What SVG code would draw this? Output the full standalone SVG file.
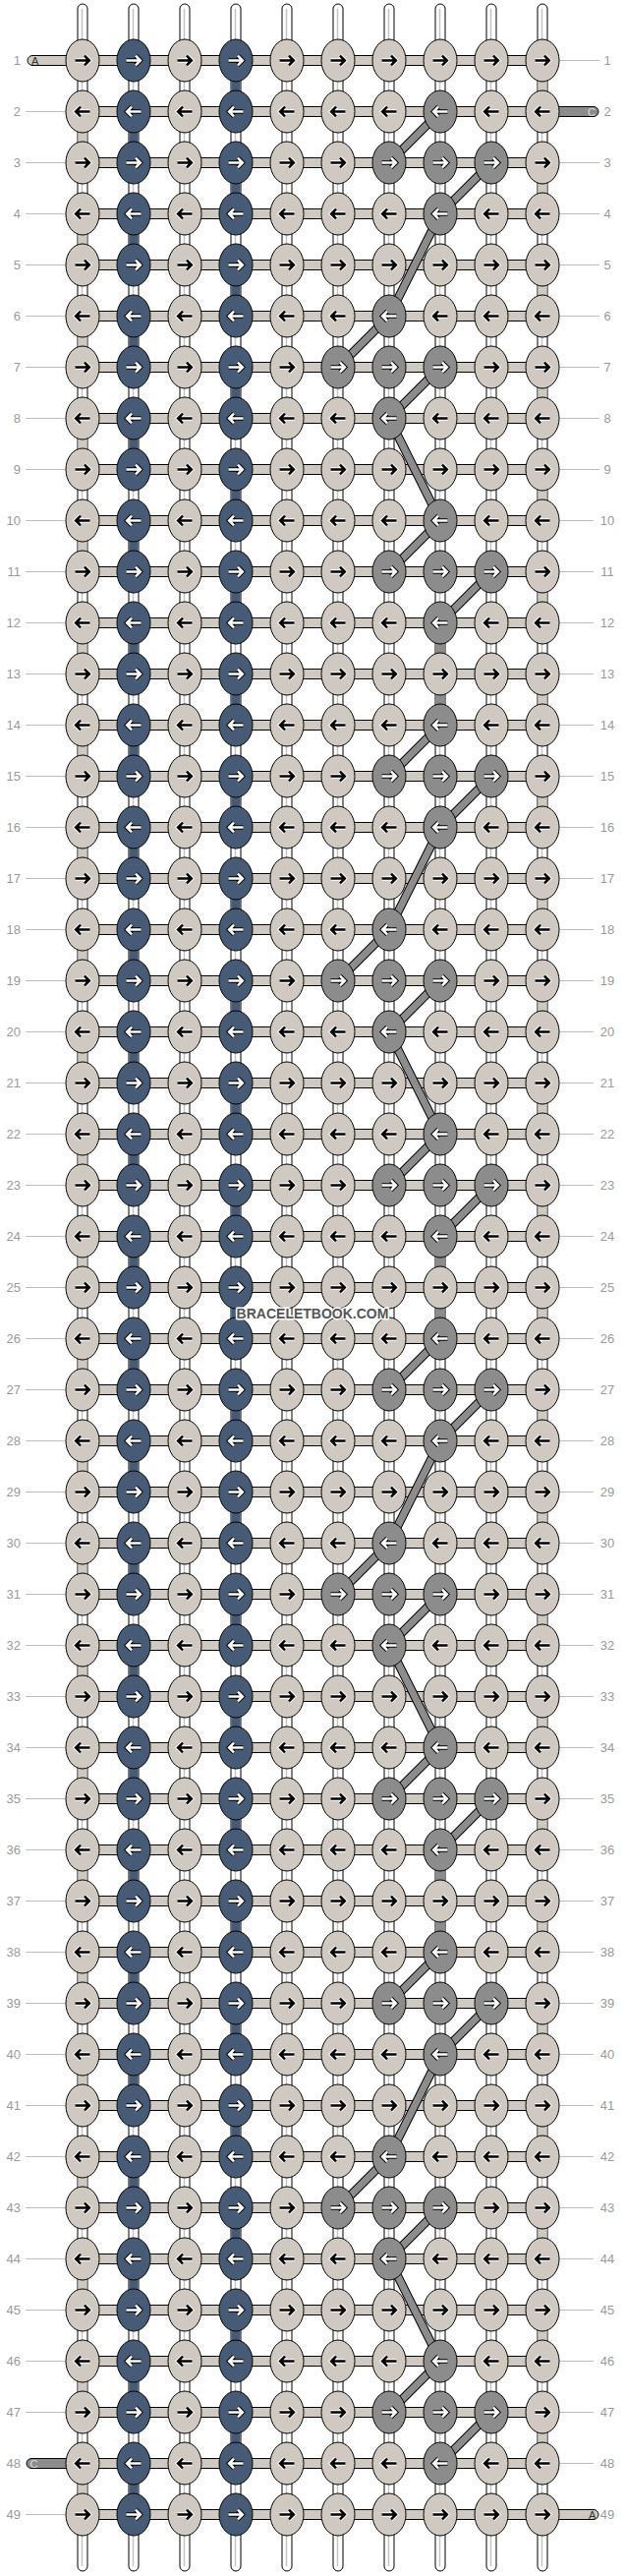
<svg xmlns="http://www.w3.org/2000/svg" xmlns:xlink="http://www.w3.org/1999/xlink" width="636" height="2620" viewBox="0 0 636 2620">
<style>
.str{fill:#fff;stroke:#000;stroke-width:1}
.sl{fill:none;stroke:#c4c4c4;stroke-width:1.5}
.hb{fill:#d0c9c1;stroke:#000;stroke-width:1}
.hg{fill:#8c8c8c;stroke:#000;stroke-width:1}
.eb{fill:#d0c9c1;stroke:#000;stroke-width:1}
.ed{fill:#485b76;stroke:#000;stroke-width:1}
.eg{fill:#8c8c8c;stroke:#000;stroke-width:1}
.h1{fill:none;stroke:#fff;stroke-width:4.6}
.a1{fill:none;stroke:#000;stroke-width:2.6}
.h2{fill:none;stroke:#000;stroke-width:4.6}
.a2{fill:none;stroke:#fff;stroke-width:2.6}
.ln{font-family:"Liberation Sans",Arial,sans-serif;font-size:13px;fill:#9a9a9a}
.rl{fill:none;stroke:#bcbcbc;stroke-width:1}
.el{font-family:"Liberation Sans",Arial,sans-serif;font-size:11px}
</style>
<defs>
<path id="ar" d="M-7.5 0H6M2 -4.8L6.8 0L2 4.8"/>
<path id="al" d="M7.5 0H-6M-2 -4.8L-6.8 0L-2 4.8"/>
<rect id="hbar" x="84" y="-5" width="468" height="10" class="hb"/>
<g id="bR"><ellipse rx="17" ry="21.5" class="eb"/><use xlink:href="#ar" class="h1"/><use xlink:href="#ar" class="a1"/></g>
<g id="bL"><ellipse rx="17" ry="21.5" class="eb"/><use xlink:href="#al" class="h1"/><use xlink:href="#al" class="a1"/></g>
<g id="dR"><ellipse rx="17" ry="21.5" class="ed"/><use xlink:href="#ar" class="h2"/><use xlink:href="#ar" class="a2"/></g>
<g id="dL"><ellipse rx="17" ry="21.5" class="ed"/><use xlink:href="#al" class="h2"/><use xlink:href="#al" class="a2"/></g>
<g id="gR"><ellipse rx="17" ry="21.5" class="eg"/><use xlink:href="#ar" class="h2"/><use xlink:href="#ar" class="a2"/></g>
<g id="gL"><ellipse rx="17" ry="21.5" class="eg"/><use xlink:href="#al" class="h2"/><use xlink:href="#al" class="a2"/></g>
<path id="bands" d="M448 113.5L396 165.5M500 165.5L448 217.5M448 217.5L396 321.5M396 321.5L344 373.5M448 373.5L396 425.5M396 425.5L448 529.5M448 529.5L396 581.5M500 581.5L448 633.5M448 737.5L396 789.5M500 789.5L448 841.5M448 841.5L396 945.5M396 945.5L344 997.5M448 997.5L396 1049.5M396 1049.5L448 1153.5M448 1153.5L396 1205.5M500 1205.5L448 1257.5M448 1361.5L396 1413.5M500 1413.5L448 1465.5M448 1465.5L396 1569.5M396 1569.5L344 1621.5M448 1621.5L396 1673.5M396 1673.5L448 1777.5M448 1777.5L396 1829.5M500 1829.5L448 1881.5M448 1985.5L396 2037.5M500 2037.5L448 2089.5M448 2089.5L396 2193.5M396 2193.5L344 2245.5M448 2245.5L396 2297.5M396 2297.5L448 2401.5M448 2401.5L396 2453.5M500 2453.5L448 2505.5"/>
</defs>
<rect width="636" height="2620" fill="#fff"/>
<g id="labels">
<path class="rl" d="M26 113.5H67M26 165.5H67M26 217.5H67M26 269.5H67M26 321.5H67M26 373.5H67M26 425.5H67M26 477.5H67M26 529.5H67M26 581.5H67M26 633.5H67M26 685.5H67M26 737.5H67M26 789.5H67M26 841.5H67M26 893.5H67M26 945.5H67M26 997.5H67M26 1049.5H67M26 1101.5H67M26 1153.5H67M26 1205.5H67M26 1257.5H67M26 1309.5H67M26 1361.5H67M26 1413.5H67M26 1465.5H67M26 1517.5H67M26 1569.5H67M26 1621.5H67M26 1673.5H67M26 1725.5H67M26 1777.5H67M26 1829.5H67M26 1881.5H67M26 1933.5H67M26 1985.5H67M26 2037.5H67M26 2089.5H67M26 2141.5H67M26 2193.5H67M26 2245.5H67M26 2297.5H67M26 2349.5H67M26 2401.5H67M26 2453.5H67M26 2557.5H67"/>
<path class="rl" d="M569 61.5H610M569 165.5H610M569 217.5H610M569 269.5H610M569 321.5H610M569 373.5H610M569 425.5H610M569 477.5H610M569 529.5H604M569 581.5H604M569 633.5H604M569 685.5H604M569 737.5H604M569 789.5H604M569 841.5H604M569 893.5H604M569 945.5H604M569 997.5H604M569 1049.5H604M569 1101.5H604M569 1153.5H604M569 1205.5H604M569 1257.5H604M569 1309.5H604M569 1361.5H604M569 1413.5H604M569 1465.5H604M569 1517.5H604M569 1569.5H604M569 1621.5H604M569 1673.5H604M569 1725.5H604M569 1777.5H604M569 1829.5H604M569 1881.5H604M569 1933.5H604M569 1985.5H604M569 2037.5H604M569 2089.5H604M569 2141.5H604M569 2193.5H604M569 2245.5H604M569 2297.5H604M569 2349.5H604M569 2401.5H604M569 2453.5H604M569 2505.5H604"/>
<g class="ln" text-anchor="end">
<text x="21" y="66">1</text><text x="21" y="118">2</text><text x="21" y="170">3</text><text x="21" y="222">4</text><text x="21" y="274">5</text><text x="21" y="326">6</text><text x="21" y="378">7</text><text x="21" y="430">8</text><text x="21" y="482">9</text><text x="21" y="534">10</text>
<text x="21" y="586">11</text><text x="21" y="638">12</text><text x="21" y="690">13</text><text x="21" y="742">14</text><text x="21" y="794">15</text><text x="21" y="846">16</text><text x="21" y="898">17</text><text x="21" y="950">18</text><text x="21" y="1002">19</text><text x="21" y="1054">20</text>
<text x="21" y="1106">21</text><text x="21" y="1158">22</text><text x="21" y="1210">23</text><text x="21" y="1262">24</text><text x="21" y="1314">25</text><text x="21" y="1366">26</text><text x="21" y="1418">27</text><text x="21" y="1470">28</text><text x="21" y="1522">29</text><text x="21" y="1574">30</text>
<text x="21" y="1626">31</text><text x="21" y="1678">32</text><text x="21" y="1730">33</text><text x="21" y="1782">34</text><text x="21" y="1834">35</text><text x="21" y="1886">36</text><text x="21" y="1938">37</text><text x="21" y="1990">38</text><text x="21" y="2042">39</text><text x="21" y="2094">40</text>
<text x="21" y="2146">41</text><text x="21" y="2198">42</text><text x="21" y="2250">43</text><text x="21" y="2302">44</text><text x="21" y="2354">45</text><text x="21" y="2406">46</text><text x="21" y="2458">47</text><text x="21" y="2510">48</text><text x="21" y="2562">49</text>
</g>
<g class="ln" text-anchor="middle">
<text x="618" y="66">1</text><text x="618" y="118">2</text><text x="618" y="170">3</text><text x="618" y="222">4</text><text x="618" y="274">5</text><text x="618" y="326">6</text><text x="618" y="378">7</text><text x="618" y="430">8</text><text x="618" y="482">9</text><text x="618" y="534">10</text>
<text x="618" y="586">11</text><text x="618" y="638">12</text><text x="618" y="690">13</text><text x="618" y="742">14</text><text x="618" y="794">15</text><text x="618" y="846">16</text><text x="618" y="898">17</text><text x="618" y="950">18</text><text x="618" y="1002">19</text><text x="618" y="1054">20</text>
<text x="618" y="1106">21</text><text x="618" y="1158">22</text><text x="618" y="1210">23</text><text x="618" y="1262">24</text><text x="618" y="1314">25</text><text x="618" y="1366">26</text><text x="618" y="1418">27</text><text x="618" y="1470">28</text><text x="618" y="1522">29</text><text x="618" y="1574">30</text>
<text x="618" y="1626">31</text><text x="618" y="1678">32</text><text x="618" y="1730">33</text><text x="618" y="1782">34</text><text x="618" y="1834">35</text><text x="618" y="1886">36</text><text x="618" y="1938">37</text><text x="618" y="1990">38</text><text x="618" y="2042">39</text><text x="618" y="2094">40</text>
<text x="618" y="2146">41</text><text x="618" y="2198">42</text><text x="618" y="2250">43</text><text x="618" y="2302">44</text><text x="618" y="2354">45</text><text x="618" y="2406">46</text><text x="618" y="2458">47</text><text x="618" y="2510">48</text><text x="618" y="2562">49</text>
</g>
</g>
<g id="connectors">
<g id="strings">
<rect class="str" x="79" y="4" width="10" height="2611" rx="5"/><rect class="str" x="131" y="4" width="10" height="2611" rx="5"/><rect class="str" x="183" y="4" width="10" height="2611" rx="5"/><rect class="str" x="235" y="4" width="10" height="2611" rx="5"/><rect class="str" x="287" y="4" width="10" height="2611" rx="5"/><rect class="str" x="339" y="4" width="10" height="2611" rx="5"/><rect class="str" x="391" y="4" width="10" height="2611" rx="5"/><rect class="str" x="443" y="4" width="10" height="2611" rx="5"/><rect class="str" x="495" y="4" width="10" height="2611" rx="5"/><rect class="str" x="547" y="4" width="10" height="2611" rx="5"/>
<path class="sl" d="M83.5 9V2610M135.5 9V2610M187.5 9V2610M239.5 9V2610M291.5 9V2610M343.5 9V2610M395.5 9V2610M447.5 9V2610M499.5 9V2610M551.5 9V2610"/>
<path d="M84 113.5V2557.5M552 61.5V2505.5" fill="none" stroke="#d0c9c1" stroke-width="9" stroke-dasharray="52 52"/>
<path d="M136 113.5V2557.5M240 61.5V2505.5" fill="none" stroke="#485b76" stroke-width="9" stroke-dasharray="52 52"/>
<path d="M448 633.5V737.5M448 1257.5V1361.5M448 1881.5V1985.5" fill="none" stroke="#8c8c8c" stroke-width="9"/>
</g>
<g id="rows-h">
<use xlink:href="#hbar" y="61.5"/><use xlink:href="#hbar" y="113.5"/><use xlink:href="#hbar" y="165.5"/><use xlink:href="#hbar" y="217.5"/><use xlink:href="#hbar" y="269.5"/><use xlink:href="#hbar" y="321.5"/><use xlink:href="#hbar" y="373.5"/><use xlink:href="#hbar" y="425.5"/><use xlink:href="#hbar" y="477.5"/><use xlink:href="#hbar" y="529.5"/>
<use xlink:href="#hbar" y="581.5"/><use xlink:href="#hbar" y="633.5"/><use xlink:href="#hbar" y="685.5"/><use xlink:href="#hbar" y="737.5"/><use xlink:href="#hbar" y="789.5"/><use xlink:href="#hbar" y="841.5"/><use xlink:href="#hbar" y="893.5"/><use xlink:href="#hbar" y="945.5"/><use xlink:href="#hbar" y="997.5"/><use xlink:href="#hbar" y="1049.5"/>
<use xlink:href="#hbar" y="1101.5"/><use xlink:href="#hbar" y="1153.5"/><use xlink:href="#hbar" y="1205.5"/><use xlink:href="#hbar" y="1257.5"/><use xlink:href="#hbar" y="1309.5"/><use xlink:href="#hbar" y="1361.5"/><use xlink:href="#hbar" y="1413.5"/><use xlink:href="#hbar" y="1465.5"/><use xlink:href="#hbar" y="1517.5"/><use xlink:href="#hbar" y="1569.5"/>
<use xlink:href="#hbar" y="1621.5"/><use xlink:href="#hbar" y="1673.5"/><use xlink:href="#hbar" y="1725.5"/><use xlink:href="#hbar" y="1777.5"/><use xlink:href="#hbar" y="1829.5"/><use xlink:href="#hbar" y="1881.5"/><use xlink:href="#hbar" y="1933.5"/><use xlink:href="#hbar" y="1985.5"/><use xlink:href="#hbar" y="2037.5"/><use xlink:href="#hbar" y="2089.5"/>
<use xlink:href="#hbar" y="2141.5"/><use xlink:href="#hbar" y="2193.5"/><use xlink:href="#hbar" y="2245.5"/><use xlink:href="#hbar" y="2297.5"/><use xlink:href="#hbar" y="2349.5"/><use xlink:href="#hbar" y="2401.5"/><use xlink:href="#hbar" y="2453.5"/><use xlink:href="#hbar" y="2505.5"/><use xlink:href="#hbar" y="2557.5"/>
</g>
<g id="ends">
<rect class="hb" x="28" y="56.5" width="60" height="10" rx="5"/><text class="el" x="32" y="65.5" fill="#333">A</text>
<rect class="hg" x="548" y="108.5" width="61" height="10" rx="5"/><text class="el" x="598" y="117.5" fill="#ddd">C</text>
<rect class="hg" x="27" y="2500.5" width="61" height="10" rx="5"/><text class="el" x="30.5" y="2509.5" fill="#ddd">C</text>
<rect class="hb" x="548" y="2552.5" width="61" height="10" rx="5"/><text class="el" x="599" y="2561.5" fill="#333">A</text>
</g>
<g id="diagonals">
<use xlink:href="#bands" fill="none" stroke="#000" stroke-width="9"/>
<use xlink:href="#bands" fill="none" stroke="#8c8c8c" stroke-width="7"/>
</g>
</g>
<g id="knots">
<g transform="translate(0,61.5)"><g id="k1-1"><use xlink:href="#bR" x="84"/></g><g id="k1-2"><use xlink:href="#dR" x="136"/></g><g id="k1-3"><use xlink:href="#bR" x="188"/></g><g id="k1-4"><use xlink:href="#dR" x="240"/></g><g id="k1-5"><use xlink:href="#bR" x="292"/></g><g id="k1-6"><use xlink:href="#bR" x="344"/></g><g id="k1-7"><use xlink:href="#bR" x="396"/></g><g id="k1-8"><use xlink:href="#bR" x="448"/></g><g id="k1-9"><use xlink:href="#bR" x="500"/></g><g id="k1-10"><use xlink:href="#bR" x="552"/></g></g>
<g transform="translate(0,113.5)"><g id="k2-1"><use xlink:href="#bL" x="84"/></g><g id="k2-2"><use xlink:href="#dL" x="136"/></g><g id="k2-3"><use xlink:href="#bL" x="188"/></g><g id="k2-4"><use xlink:href="#dL" x="240"/></g><g id="k2-5"><use xlink:href="#bL" x="292"/></g><g id="k2-6"><use xlink:href="#bL" x="344"/></g><g id="k2-7"><use xlink:href="#bL" x="396"/></g><g id="k2-8"><use xlink:href="#gL" x="448"/></g><g id="k2-9"><use xlink:href="#bL" x="500"/></g><g id="k2-10"><use xlink:href="#bL" x="552"/></g></g>
<g transform="translate(0,165.5)"><g id="k3-1"><use xlink:href="#bR" x="84"/></g><g id="k3-2"><use xlink:href="#dR" x="136"/></g><g id="k3-3"><use xlink:href="#bR" x="188"/></g><g id="k3-4"><use xlink:href="#dR" x="240"/></g><g id="k3-5"><use xlink:href="#bR" x="292"/></g><g id="k3-6"><use xlink:href="#bR" x="344"/></g><g id="k3-7"><use xlink:href="#gR" x="396"/></g><g id="k3-8"><use xlink:href="#gR" x="448"/></g><g id="k3-9"><use xlink:href="#gR" x="500"/></g><g id="k3-10"><use xlink:href="#bR" x="552"/></g></g>
<g transform="translate(0,217.5)"><g id="k4-1"><use xlink:href="#bL" x="84"/></g><g id="k4-2"><use xlink:href="#dL" x="136"/></g><g id="k4-3"><use xlink:href="#bL" x="188"/></g><g id="k4-4"><use xlink:href="#dL" x="240"/></g><g id="k4-5"><use xlink:href="#bL" x="292"/></g><g id="k4-6"><use xlink:href="#bL" x="344"/></g><g id="k4-7"><use xlink:href="#bL" x="396"/></g><g id="k4-8"><use xlink:href="#gL" x="448"/></g><g id="k4-9"><use xlink:href="#bL" x="500"/></g><g id="k4-10"><use xlink:href="#bL" x="552"/></g></g>
<g transform="translate(0,269.5)"><g id="k5-1"><use xlink:href="#bR" x="84"/></g><g id="k5-2"><use xlink:href="#dR" x="136"/></g><g id="k5-3"><use xlink:href="#bR" x="188"/></g><g id="k5-4"><use xlink:href="#dR" x="240"/></g><g id="k5-5"><use xlink:href="#bR" x="292"/></g><g id="k5-6"><use xlink:href="#bR" x="344"/></g><g id="k5-7"><use xlink:href="#bR" x="396"/></g><g id="k5-8"><use xlink:href="#bR" x="448"/></g><g id="k5-9"><use xlink:href="#bR" x="500"/></g><g id="k5-10"><use xlink:href="#bR" x="552"/></g></g>
<g transform="translate(0,321.5)"><g id="k6-1"><use xlink:href="#bL" x="84"/></g><g id="k6-2"><use xlink:href="#dL" x="136"/></g><g id="k6-3"><use xlink:href="#bL" x="188"/></g><g id="k6-4"><use xlink:href="#dL" x="240"/></g><g id="k6-5"><use xlink:href="#bL" x="292"/></g><g id="k6-6"><use xlink:href="#bL" x="344"/></g><g id="k6-7"><use xlink:href="#gL" x="396"/></g><g id="k6-8"><use xlink:href="#bL" x="448"/></g><g id="k6-9"><use xlink:href="#bL" x="500"/></g><g id="k6-10"><use xlink:href="#bL" x="552"/></g></g>
<g transform="translate(0,373.5)"><g id="k7-1"><use xlink:href="#bR" x="84"/></g><g id="k7-2"><use xlink:href="#dR" x="136"/></g><g id="k7-3"><use xlink:href="#bR" x="188"/></g><g id="k7-4"><use xlink:href="#dR" x="240"/></g><g id="k7-5"><use xlink:href="#bR" x="292"/></g><g id="k7-6"><use xlink:href="#gR" x="344"/></g><g id="k7-7"><use xlink:href="#gR" x="396"/></g><g id="k7-8"><use xlink:href="#gR" x="448"/></g><g id="k7-9"><use xlink:href="#bR" x="500"/></g><g id="k7-10"><use xlink:href="#bR" x="552"/></g></g>
<g transform="translate(0,425.5)"><g id="k8-1"><use xlink:href="#bL" x="84"/></g><g id="k8-2"><use xlink:href="#dL" x="136"/></g><g id="k8-3"><use xlink:href="#bL" x="188"/></g><g id="k8-4"><use xlink:href="#dL" x="240"/></g><g id="k8-5"><use xlink:href="#bL" x="292"/></g><g id="k8-6"><use xlink:href="#bL" x="344"/></g><g id="k8-7"><use xlink:href="#gL" x="396"/></g><g id="k8-8"><use xlink:href="#bL" x="448"/></g><g id="k8-9"><use xlink:href="#bL" x="500"/></g><g id="k8-10"><use xlink:href="#bL" x="552"/></g></g>
<g transform="translate(0,477.5)"><g id="k9-1"><use xlink:href="#bR" x="84"/></g><g id="k9-2"><use xlink:href="#dR" x="136"/></g><g id="k9-3"><use xlink:href="#bR" x="188"/></g><g id="k9-4"><use xlink:href="#dR" x="240"/></g><g id="k9-5"><use xlink:href="#bR" x="292"/></g><g id="k9-6"><use xlink:href="#bR" x="344"/></g><g id="k9-7"><use xlink:href="#bR" x="396"/></g><g id="k9-8"><use xlink:href="#bR" x="448"/></g><g id="k9-9"><use xlink:href="#bR" x="500"/></g><g id="k9-10"><use xlink:href="#bR" x="552"/></g></g>
<g transform="translate(0,529.5)"><g id="k10-1"><use xlink:href="#bL" x="84"/></g><g id="k10-2"><use xlink:href="#dL" x="136"/></g><g id="k10-3"><use xlink:href="#bL" x="188"/></g><g id="k10-4"><use xlink:href="#dL" x="240"/></g><g id="k10-5"><use xlink:href="#bL" x="292"/></g><g id="k10-6"><use xlink:href="#bL" x="344"/></g><g id="k10-7"><use xlink:href="#bL" x="396"/></g><g id="k10-8"><use xlink:href="#gL" x="448"/></g><g id="k10-9"><use xlink:href="#bL" x="500"/></g><g id="k10-10"><use xlink:href="#bL" x="552"/></g></g>
<g transform="translate(0,581.5)"><g id="k11-1"><use xlink:href="#bR" x="84"/></g><g id="k11-2"><use xlink:href="#dR" x="136"/></g><g id="k11-3"><use xlink:href="#bR" x="188"/></g><g id="k11-4"><use xlink:href="#dR" x="240"/></g><g id="k11-5"><use xlink:href="#bR" x="292"/></g><g id="k11-6"><use xlink:href="#bR" x="344"/></g><g id="k11-7"><use xlink:href="#gR" x="396"/></g><g id="k11-8"><use xlink:href="#gR" x="448"/></g><g id="k11-9"><use xlink:href="#gR" x="500"/></g><g id="k11-10"><use xlink:href="#bR" x="552"/></g></g>
<g transform="translate(0,633.5)"><g id="k12-1"><use xlink:href="#bL" x="84"/></g><g id="k12-2"><use xlink:href="#dL" x="136"/></g><g id="k12-3"><use xlink:href="#bL" x="188"/></g><g id="k12-4"><use xlink:href="#dL" x="240"/></g><g id="k12-5"><use xlink:href="#bL" x="292"/></g><g id="k12-6"><use xlink:href="#bL" x="344"/></g><g id="k12-7"><use xlink:href="#bL" x="396"/></g><g id="k12-8"><use xlink:href="#gL" x="448"/></g><g id="k12-9"><use xlink:href="#bL" x="500"/></g><g id="k12-10"><use xlink:href="#bL" x="552"/></g></g>
<g transform="translate(0,685.5)"><g id="k13-1"><use xlink:href="#bR" x="84"/></g><g id="k13-2"><use xlink:href="#dR" x="136"/></g><g id="k13-3"><use xlink:href="#bR" x="188"/></g><g id="k13-4"><use xlink:href="#dR" x="240"/></g><g id="k13-5"><use xlink:href="#bR" x="292"/></g><g id="k13-6"><use xlink:href="#bR" x="344"/></g><g id="k13-7"><use xlink:href="#bR" x="396"/></g><g id="k13-8"><use xlink:href="#bR" x="448"/></g><g id="k13-9"><use xlink:href="#bR" x="500"/></g><g id="k13-10"><use xlink:href="#bR" x="552"/></g></g>
<g transform="translate(0,737.5)"><g id="k14-1"><use xlink:href="#bL" x="84"/></g><g id="k14-2"><use xlink:href="#dL" x="136"/></g><g id="k14-3"><use xlink:href="#bL" x="188"/></g><g id="k14-4"><use xlink:href="#dL" x="240"/></g><g id="k14-5"><use xlink:href="#bL" x="292"/></g><g id="k14-6"><use xlink:href="#bL" x="344"/></g><g id="k14-7"><use xlink:href="#bL" x="396"/></g><g id="k14-8"><use xlink:href="#gL" x="448"/></g><g id="k14-9"><use xlink:href="#bL" x="500"/></g><g id="k14-10"><use xlink:href="#bL" x="552"/></g></g>
<g transform="translate(0,789.5)"><g id="k15-1"><use xlink:href="#bR" x="84"/></g><g id="k15-2"><use xlink:href="#dR" x="136"/></g><g id="k15-3"><use xlink:href="#bR" x="188"/></g><g id="k15-4"><use xlink:href="#dR" x="240"/></g><g id="k15-5"><use xlink:href="#bR" x="292"/></g><g id="k15-6"><use xlink:href="#bR" x="344"/></g><g id="k15-7"><use xlink:href="#gR" x="396"/></g><g id="k15-8"><use xlink:href="#gR" x="448"/></g><g id="k15-9"><use xlink:href="#gR" x="500"/></g><g id="k15-10"><use xlink:href="#bR" x="552"/></g></g>
<g transform="translate(0,841.5)"><g id="k16-1"><use xlink:href="#bL" x="84"/></g><g id="k16-2"><use xlink:href="#dL" x="136"/></g><g id="k16-3"><use xlink:href="#bL" x="188"/></g><g id="k16-4"><use xlink:href="#dL" x="240"/></g><g id="k16-5"><use xlink:href="#bL" x="292"/></g><g id="k16-6"><use xlink:href="#bL" x="344"/></g><g id="k16-7"><use xlink:href="#bL" x="396"/></g><g id="k16-8"><use xlink:href="#gL" x="448"/></g><g id="k16-9"><use xlink:href="#bL" x="500"/></g><g id="k16-10"><use xlink:href="#bL" x="552"/></g></g>
<g transform="translate(0,893.5)"><g id="k17-1"><use xlink:href="#bR" x="84"/></g><g id="k17-2"><use xlink:href="#dR" x="136"/></g><g id="k17-3"><use xlink:href="#bR" x="188"/></g><g id="k17-4"><use xlink:href="#dR" x="240"/></g><g id="k17-5"><use xlink:href="#bR" x="292"/></g><g id="k17-6"><use xlink:href="#bR" x="344"/></g><g id="k17-7"><use xlink:href="#bR" x="396"/></g><g id="k17-8"><use xlink:href="#bR" x="448"/></g><g id="k17-9"><use xlink:href="#bR" x="500"/></g><g id="k17-10"><use xlink:href="#bR" x="552"/></g></g>
<g transform="translate(0,945.5)"><g id="k18-1"><use xlink:href="#bL" x="84"/></g><g id="k18-2"><use xlink:href="#dL" x="136"/></g><g id="k18-3"><use xlink:href="#bL" x="188"/></g><g id="k18-4"><use xlink:href="#dL" x="240"/></g><g id="k18-5"><use xlink:href="#bL" x="292"/></g><g id="k18-6"><use xlink:href="#bL" x="344"/></g><g id="k18-7"><use xlink:href="#gL" x="396"/></g><g id="k18-8"><use xlink:href="#bL" x="448"/></g><g id="k18-9"><use xlink:href="#bL" x="500"/></g><g id="k18-10"><use xlink:href="#bL" x="552"/></g></g>
<g transform="translate(0,997.5)"><g id="k19-1"><use xlink:href="#bR" x="84"/></g><g id="k19-2"><use xlink:href="#dR" x="136"/></g><g id="k19-3"><use xlink:href="#bR" x="188"/></g><g id="k19-4"><use xlink:href="#dR" x="240"/></g><g id="k19-5"><use xlink:href="#bR" x="292"/></g><g id="k19-6"><use xlink:href="#gR" x="344"/></g><g id="k19-7"><use xlink:href="#gR" x="396"/></g><g id="k19-8"><use xlink:href="#gR" x="448"/></g><g id="k19-9"><use xlink:href="#bR" x="500"/></g><g id="k19-10"><use xlink:href="#bR" x="552"/></g></g>
<g transform="translate(0,1049.5)"><g id="k20-1"><use xlink:href="#bL" x="84"/></g><g id="k20-2"><use xlink:href="#dL" x="136"/></g><g id="k20-3"><use xlink:href="#bL" x="188"/></g><g id="k20-4"><use xlink:href="#dL" x="240"/></g><g id="k20-5"><use xlink:href="#bL" x="292"/></g><g id="k20-6"><use xlink:href="#bL" x="344"/></g><g id="k20-7"><use xlink:href="#gL" x="396"/></g><g id="k20-8"><use xlink:href="#bL" x="448"/></g><g id="k20-9"><use xlink:href="#bL" x="500"/></g><g id="k20-10"><use xlink:href="#bL" x="552"/></g></g>
<g transform="translate(0,1101.5)"><g id="k21-1"><use xlink:href="#bR" x="84"/></g><g id="k21-2"><use xlink:href="#dR" x="136"/></g><g id="k21-3"><use xlink:href="#bR" x="188"/></g><g id="k21-4"><use xlink:href="#dR" x="240"/></g><g id="k21-5"><use xlink:href="#bR" x="292"/></g><g id="k21-6"><use xlink:href="#bR" x="344"/></g><g id="k21-7"><use xlink:href="#bR" x="396"/></g><g id="k21-8"><use xlink:href="#bR" x="448"/></g><g id="k21-9"><use xlink:href="#bR" x="500"/></g><g id="k21-10"><use xlink:href="#bR" x="552"/></g></g>
<g transform="translate(0,1153.5)"><g id="k22-1"><use xlink:href="#bL" x="84"/></g><g id="k22-2"><use xlink:href="#dL" x="136"/></g><g id="k22-3"><use xlink:href="#bL" x="188"/></g><g id="k22-4"><use xlink:href="#dL" x="240"/></g><g id="k22-5"><use xlink:href="#bL" x="292"/></g><g id="k22-6"><use xlink:href="#bL" x="344"/></g><g id="k22-7"><use xlink:href="#bL" x="396"/></g><g id="k22-8"><use xlink:href="#gL" x="448"/></g><g id="k22-9"><use xlink:href="#bL" x="500"/></g><g id="k22-10"><use xlink:href="#bL" x="552"/></g></g>
<g transform="translate(0,1205.5)"><g id="k23-1"><use xlink:href="#bR" x="84"/></g><g id="k23-2"><use xlink:href="#dR" x="136"/></g><g id="k23-3"><use xlink:href="#bR" x="188"/></g><g id="k23-4"><use xlink:href="#dR" x="240"/></g><g id="k23-5"><use xlink:href="#bR" x="292"/></g><g id="k23-6"><use xlink:href="#bR" x="344"/></g><g id="k23-7"><use xlink:href="#gR" x="396"/></g><g id="k23-8"><use xlink:href="#gR" x="448"/></g><g id="k23-9"><use xlink:href="#gR" x="500"/></g><g id="k23-10"><use xlink:href="#bR" x="552"/></g></g>
<g transform="translate(0,1257.5)"><g id="k24-1"><use xlink:href="#bL" x="84"/></g><g id="k24-2"><use xlink:href="#dL" x="136"/></g><g id="k24-3"><use xlink:href="#bL" x="188"/></g><g id="k24-4"><use xlink:href="#dL" x="240"/></g><g id="k24-5"><use xlink:href="#bL" x="292"/></g><g id="k24-6"><use xlink:href="#bL" x="344"/></g><g id="k24-7"><use xlink:href="#bL" x="396"/></g><g id="k24-8"><use xlink:href="#gL" x="448"/></g><g id="k24-9"><use xlink:href="#bL" x="500"/></g><g id="k24-10"><use xlink:href="#bL" x="552"/></g></g>
<g transform="translate(0,1309.5)"><g id="k25-1"><use xlink:href="#bR" x="84"/></g><g id="k25-2"><use xlink:href="#dR" x="136"/></g><g id="k25-3"><use xlink:href="#bR" x="188"/></g><g id="k25-4"><use xlink:href="#dR" x="240"/></g><g id="k25-5"><use xlink:href="#bR" x="292"/></g><g id="k25-6"><use xlink:href="#bR" x="344"/></g><g id="k25-7"><use xlink:href="#bR" x="396"/></g><g id="k25-8"><use xlink:href="#bR" x="448"/></g><g id="k25-9"><use xlink:href="#bR" x="500"/></g><g id="k25-10"><use xlink:href="#bR" x="552"/></g></g>
<g transform="translate(0,1361.5)"><g id="k26-1"><use xlink:href="#bL" x="84"/></g><g id="k26-2"><use xlink:href="#dL" x="136"/></g><g id="k26-3"><use xlink:href="#bL" x="188"/></g><g id="k26-4"><use xlink:href="#dL" x="240"/></g><g id="k26-5"><use xlink:href="#bL" x="292"/></g><g id="k26-6"><use xlink:href="#bL" x="344"/></g><g id="k26-7"><use xlink:href="#bL" x="396"/></g><g id="k26-8"><use xlink:href="#gL" x="448"/></g><g id="k26-9"><use xlink:href="#bL" x="500"/></g><g id="k26-10"><use xlink:href="#bL" x="552"/></g></g>
<g transform="translate(0,1413.5)"><g id="k27-1"><use xlink:href="#bR" x="84"/></g><g id="k27-2"><use xlink:href="#dR" x="136"/></g><g id="k27-3"><use xlink:href="#bR" x="188"/></g><g id="k27-4"><use xlink:href="#dR" x="240"/></g><g id="k27-5"><use xlink:href="#bR" x="292"/></g><g id="k27-6"><use xlink:href="#bR" x="344"/></g><g id="k27-7"><use xlink:href="#gR" x="396"/></g><g id="k27-8"><use xlink:href="#gR" x="448"/></g><g id="k27-9"><use xlink:href="#gR" x="500"/></g><g id="k27-10"><use xlink:href="#bR" x="552"/></g></g>
<g transform="translate(0,1465.5)"><g id="k28-1"><use xlink:href="#bL" x="84"/></g><g id="k28-2"><use xlink:href="#dL" x="136"/></g><g id="k28-3"><use xlink:href="#bL" x="188"/></g><g id="k28-4"><use xlink:href="#dL" x="240"/></g><g id="k28-5"><use xlink:href="#bL" x="292"/></g><g id="k28-6"><use xlink:href="#bL" x="344"/></g><g id="k28-7"><use xlink:href="#bL" x="396"/></g><g id="k28-8"><use xlink:href="#gL" x="448"/></g><g id="k28-9"><use xlink:href="#bL" x="500"/></g><g id="k28-10"><use xlink:href="#bL" x="552"/></g></g>
<g transform="translate(0,1517.5)"><g id="k29-1"><use xlink:href="#bR" x="84"/></g><g id="k29-2"><use xlink:href="#dR" x="136"/></g><g id="k29-3"><use xlink:href="#bR" x="188"/></g><g id="k29-4"><use xlink:href="#dR" x="240"/></g><g id="k29-5"><use xlink:href="#bR" x="292"/></g><g id="k29-6"><use xlink:href="#bR" x="344"/></g><g id="k29-7"><use xlink:href="#bR" x="396"/></g><g id="k29-8"><use xlink:href="#bR" x="448"/></g><g id="k29-9"><use xlink:href="#bR" x="500"/></g><g id="k29-10"><use xlink:href="#bR" x="552"/></g></g>
<g transform="translate(0,1569.5)"><g id="k30-1"><use xlink:href="#bL" x="84"/></g><g id="k30-2"><use xlink:href="#dL" x="136"/></g><g id="k30-3"><use xlink:href="#bL" x="188"/></g><g id="k30-4"><use xlink:href="#dL" x="240"/></g><g id="k30-5"><use xlink:href="#bL" x="292"/></g><g id="k30-6"><use xlink:href="#bL" x="344"/></g><g id="k30-7"><use xlink:href="#gL" x="396"/></g><g id="k30-8"><use xlink:href="#bL" x="448"/></g><g id="k30-9"><use xlink:href="#bL" x="500"/></g><g id="k30-10"><use xlink:href="#bL" x="552"/></g></g>
<g transform="translate(0,1621.5)"><g id="k31-1"><use xlink:href="#bR" x="84"/></g><g id="k31-2"><use xlink:href="#dR" x="136"/></g><g id="k31-3"><use xlink:href="#bR" x="188"/></g><g id="k31-4"><use xlink:href="#dR" x="240"/></g><g id="k31-5"><use xlink:href="#bR" x="292"/></g><g id="k31-6"><use xlink:href="#gR" x="344"/></g><g id="k31-7"><use xlink:href="#gR" x="396"/></g><g id="k31-8"><use xlink:href="#gR" x="448"/></g><g id="k31-9"><use xlink:href="#bR" x="500"/></g><g id="k31-10"><use xlink:href="#bR" x="552"/></g></g>
<g transform="translate(0,1673.5)"><g id="k32-1"><use xlink:href="#bL" x="84"/></g><g id="k32-2"><use xlink:href="#dL" x="136"/></g><g id="k32-3"><use xlink:href="#bL" x="188"/></g><g id="k32-4"><use xlink:href="#dL" x="240"/></g><g id="k32-5"><use xlink:href="#bL" x="292"/></g><g id="k32-6"><use xlink:href="#bL" x="344"/></g><g id="k32-7"><use xlink:href="#gL" x="396"/></g><g id="k32-8"><use xlink:href="#bL" x="448"/></g><g id="k32-9"><use xlink:href="#bL" x="500"/></g><g id="k32-10"><use xlink:href="#bL" x="552"/></g></g>
<g transform="translate(0,1725.5)"><g id="k33-1"><use xlink:href="#bR" x="84"/></g><g id="k33-2"><use xlink:href="#dR" x="136"/></g><g id="k33-3"><use xlink:href="#bR" x="188"/></g><g id="k33-4"><use xlink:href="#dR" x="240"/></g><g id="k33-5"><use xlink:href="#bR" x="292"/></g><g id="k33-6"><use xlink:href="#bR" x="344"/></g><g id="k33-7"><use xlink:href="#bR" x="396"/></g><g id="k33-8"><use xlink:href="#bR" x="448"/></g><g id="k33-9"><use xlink:href="#bR" x="500"/></g><g id="k33-10"><use xlink:href="#bR" x="552"/></g></g>
<g transform="translate(0,1777.5)"><g id="k34-1"><use xlink:href="#bL" x="84"/></g><g id="k34-2"><use xlink:href="#dL" x="136"/></g><g id="k34-3"><use xlink:href="#bL" x="188"/></g><g id="k34-4"><use xlink:href="#dL" x="240"/></g><g id="k34-5"><use xlink:href="#bL" x="292"/></g><g id="k34-6"><use xlink:href="#bL" x="344"/></g><g id="k34-7"><use xlink:href="#bL" x="396"/></g><g id="k34-8"><use xlink:href="#gL" x="448"/></g><g id="k34-9"><use xlink:href="#bL" x="500"/></g><g id="k34-10"><use xlink:href="#bL" x="552"/></g></g>
<g transform="translate(0,1829.5)"><g id="k35-1"><use xlink:href="#bR" x="84"/></g><g id="k35-2"><use xlink:href="#dR" x="136"/></g><g id="k35-3"><use xlink:href="#bR" x="188"/></g><g id="k35-4"><use xlink:href="#dR" x="240"/></g><g id="k35-5"><use xlink:href="#bR" x="292"/></g><g id="k35-6"><use xlink:href="#bR" x="344"/></g><g id="k35-7"><use xlink:href="#gR" x="396"/></g><g id="k35-8"><use xlink:href="#gR" x="448"/></g><g id="k35-9"><use xlink:href="#gR" x="500"/></g><g id="k35-10"><use xlink:href="#bR" x="552"/></g></g>
<g transform="translate(0,1881.5)"><g id="k36-1"><use xlink:href="#bL" x="84"/></g><g id="k36-2"><use xlink:href="#dL" x="136"/></g><g id="k36-3"><use xlink:href="#bL" x="188"/></g><g id="k36-4"><use xlink:href="#dL" x="240"/></g><g id="k36-5"><use xlink:href="#bL" x="292"/></g><g id="k36-6"><use xlink:href="#bL" x="344"/></g><g id="k36-7"><use xlink:href="#bL" x="396"/></g><g id="k36-8"><use xlink:href="#gL" x="448"/></g><g id="k36-9"><use xlink:href="#bL" x="500"/></g><g id="k36-10"><use xlink:href="#bL" x="552"/></g></g>
<g transform="translate(0,1933.5)"><g id="k37-1"><use xlink:href="#bR" x="84"/></g><g id="k37-2"><use xlink:href="#dR" x="136"/></g><g id="k37-3"><use xlink:href="#bR" x="188"/></g><g id="k37-4"><use xlink:href="#dR" x="240"/></g><g id="k37-5"><use xlink:href="#bR" x="292"/></g><g id="k37-6"><use xlink:href="#bR" x="344"/></g><g id="k37-7"><use xlink:href="#bR" x="396"/></g><g id="k37-8"><use xlink:href="#bR" x="448"/></g><g id="k37-9"><use xlink:href="#bR" x="500"/></g><g id="k37-10"><use xlink:href="#bR" x="552"/></g></g>
<g transform="translate(0,1985.5)"><g id="k38-1"><use xlink:href="#bL" x="84"/></g><g id="k38-2"><use xlink:href="#dL" x="136"/></g><g id="k38-3"><use xlink:href="#bL" x="188"/></g><g id="k38-4"><use xlink:href="#dL" x="240"/></g><g id="k38-5"><use xlink:href="#bL" x="292"/></g><g id="k38-6"><use xlink:href="#bL" x="344"/></g><g id="k38-7"><use xlink:href="#bL" x="396"/></g><g id="k38-8"><use xlink:href="#gL" x="448"/></g><g id="k38-9"><use xlink:href="#bL" x="500"/></g><g id="k38-10"><use xlink:href="#bL" x="552"/></g></g>
<g transform="translate(0,2037.5)"><g id="k39-1"><use xlink:href="#bR" x="84"/></g><g id="k39-2"><use xlink:href="#dR" x="136"/></g><g id="k39-3"><use xlink:href="#bR" x="188"/></g><g id="k39-4"><use xlink:href="#dR" x="240"/></g><g id="k39-5"><use xlink:href="#bR" x="292"/></g><g id="k39-6"><use xlink:href="#bR" x="344"/></g><g id="k39-7"><use xlink:href="#gR" x="396"/></g><g id="k39-8"><use xlink:href="#gR" x="448"/></g><g id="k39-9"><use xlink:href="#gR" x="500"/></g><g id="k39-10"><use xlink:href="#bR" x="552"/></g></g>
<g transform="translate(0,2089.5)"><g id="k40-1"><use xlink:href="#bL" x="84"/></g><g id="k40-2"><use xlink:href="#dL" x="136"/></g><g id="k40-3"><use xlink:href="#bL" x="188"/></g><g id="k40-4"><use xlink:href="#dL" x="240"/></g><g id="k40-5"><use xlink:href="#bL" x="292"/></g><g id="k40-6"><use xlink:href="#bL" x="344"/></g><g id="k40-7"><use xlink:href="#bL" x="396"/></g><g id="k40-8"><use xlink:href="#gL" x="448"/></g><g id="k40-9"><use xlink:href="#bL" x="500"/></g><g id="k40-10"><use xlink:href="#bL" x="552"/></g></g>
<g transform="translate(0,2141.5)"><g id="k41-1"><use xlink:href="#bR" x="84"/></g><g id="k41-2"><use xlink:href="#dR" x="136"/></g><g id="k41-3"><use xlink:href="#bR" x="188"/></g><g id="k41-4"><use xlink:href="#dR" x="240"/></g><g id="k41-5"><use xlink:href="#bR" x="292"/></g><g id="k41-6"><use xlink:href="#bR" x="344"/></g><g id="k41-7"><use xlink:href="#bR" x="396"/></g><g id="k41-8"><use xlink:href="#bR" x="448"/></g><g id="k41-9"><use xlink:href="#bR" x="500"/></g><g id="k41-10"><use xlink:href="#bR" x="552"/></g></g>
<g transform="translate(0,2193.5)"><g id="k42-1"><use xlink:href="#bL" x="84"/></g><g id="k42-2"><use xlink:href="#dL" x="136"/></g><g id="k42-3"><use xlink:href="#bL" x="188"/></g><g id="k42-4"><use xlink:href="#dL" x="240"/></g><g id="k42-5"><use xlink:href="#bL" x="292"/></g><g id="k42-6"><use xlink:href="#bL" x="344"/></g><g id="k42-7"><use xlink:href="#gL" x="396"/></g><g id="k42-8"><use xlink:href="#bL" x="448"/></g><g id="k42-9"><use xlink:href="#bL" x="500"/></g><g id="k42-10"><use xlink:href="#bL" x="552"/></g></g>
<g transform="translate(0,2245.5)"><g id="k43-1"><use xlink:href="#bR" x="84"/></g><g id="k43-2"><use xlink:href="#dR" x="136"/></g><g id="k43-3"><use xlink:href="#bR" x="188"/></g><g id="k43-4"><use xlink:href="#dR" x="240"/></g><g id="k43-5"><use xlink:href="#bR" x="292"/></g><g id="k43-6"><use xlink:href="#gR" x="344"/></g><g id="k43-7"><use xlink:href="#gR" x="396"/></g><g id="k43-8"><use xlink:href="#gR" x="448"/></g><g id="k43-9"><use xlink:href="#bR" x="500"/></g><g id="k43-10"><use xlink:href="#bR" x="552"/></g></g>
<g transform="translate(0,2297.5)"><g id="k44-1"><use xlink:href="#bL" x="84"/></g><g id="k44-2"><use xlink:href="#dL" x="136"/></g><g id="k44-3"><use xlink:href="#bL" x="188"/></g><g id="k44-4"><use xlink:href="#dL" x="240"/></g><g id="k44-5"><use xlink:href="#bL" x="292"/></g><g id="k44-6"><use xlink:href="#bL" x="344"/></g><g id="k44-7"><use xlink:href="#gL" x="396"/></g><g id="k44-8"><use xlink:href="#bL" x="448"/></g><g id="k44-9"><use xlink:href="#bL" x="500"/></g><g id="k44-10"><use xlink:href="#bL" x="552"/></g></g>
<g transform="translate(0,2349.5)"><g id="k45-1"><use xlink:href="#bR" x="84"/></g><g id="k45-2"><use xlink:href="#dR" x="136"/></g><g id="k45-3"><use xlink:href="#bR" x="188"/></g><g id="k45-4"><use xlink:href="#dR" x="240"/></g><g id="k45-5"><use xlink:href="#bR" x="292"/></g><g id="k45-6"><use xlink:href="#bR" x="344"/></g><g id="k45-7"><use xlink:href="#bR" x="396"/></g><g id="k45-8"><use xlink:href="#bR" x="448"/></g><g id="k45-9"><use xlink:href="#bR" x="500"/></g><g id="k45-10"><use xlink:href="#bR" x="552"/></g></g>
<g transform="translate(0,2401.5)"><g id="k46-1"><use xlink:href="#bL" x="84"/></g><g id="k46-2"><use xlink:href="#dL" x="136"/></g><g id="k46-3"><use xlink:href="#bL" x="188"/></g><g id="k46-4"><use xlink:href="#dL" x="240"/></g><g id="k46-5"><use xlink:href="#bL" x="292"/></g><g id="k46-6"><use xlink:href="#bL" x="344"/></g><g id="k46-7"><use xlink:href="#bL" x="396"/></g><g id="k46-8"><use xlink:href="#gL" x="448"/></g><g id="k46-9"><use xlink:href="#bL" x="500"/></g><g id="k46-10"><use xlink:href="#bL" x="552"/></g></g>
<g transform="translate(0,2453.5)"><g id="k47-1"><use xlink:href="#bR" x="84"/></g><g id="k47-2"><use xlink:href="#dR" x="136"/></g><g id="k47-3"><use xlink:href="#bR" x="188"/></g><g id="k47-4"><use xlink:href="#dR" x="240"/></g><g id="k47-5"><use xlink:href="#bR" x="292"/></g><g id="k47-6"><use xlink:href="#bR" x="344"/></g><g id="k47-7"><use xlink:href="#gR" x="396"/></g><g id="k47-8"><use xlink:href="#gR" x="448"/></g><g id="k47-9"><use xlink:href="#gR" x="500"/></g><g id="k47-10"><use xlink:href="#bR" x="552"/></g></g>
<g transform="translate(0,2505.5)"><g id="k48-1"><use xlink:href="#bL" x="84"/></g><g id="k48-2"><use xlink:href="#dL" x="136"/></g><g id="k48-3"><use xlink:href="#bL" x="188"/></g><g id="k48-4"><use xlink:href="#dL" x="240"/></g><g id="k48-5"><use xlink:href="#bL" x="292"/></g><g id="k48-6"><use xlink:href="#bL" x="344"/></g><g id="k48-7"><use xlink:href="#bL" x="396"/></g><g id="k48-8"><use xlink:href="#gL" x="448"/></g><g id="k48-9"><use xlink:href="#bL" x="500"/></g><g id="k48-10"><use xlink:href="#bL" x="552"/></g></g>
<g transform="translate(0,2557.5)"><g id="k49-1"><use xlink:href="#bR" x="84"/></g><g id="k49-2"><use xlink:href="#dR" x="136"/></g><g id="k49-3"><use xlink:href="#bR" x="188"/></g><g id="k49-4"><use xlink:href="#dR" x="240"/></g><g id="k49-5"><use xlink:href="#bR" x="292"/></g><g id="k49-6"><use xlink:href="#bR" x="344"/></g><g id="k49-7"><use xlink:href="#bR" x="396"/></g><g id="k49-8"><use xlink:href="#bR" x="448"/></g><g id="k49-9"><use xlink:href="#bR" x="500"/></g><g id="k49-10"><use xlink:href="#bR" x="552"/></g></g>
</g>
<text id="watermark" x="318" y="1340.5" text-anchor="middle" font-family="Liberation Sans, Arial, sans-serif" font-weight="bold" font-size="14" fill="#555" stroke="#fff" stroke-width="3" paint-order="stroke" stroke-linejoin="round">BRACELETBOOK.COM</text>
</svg>
